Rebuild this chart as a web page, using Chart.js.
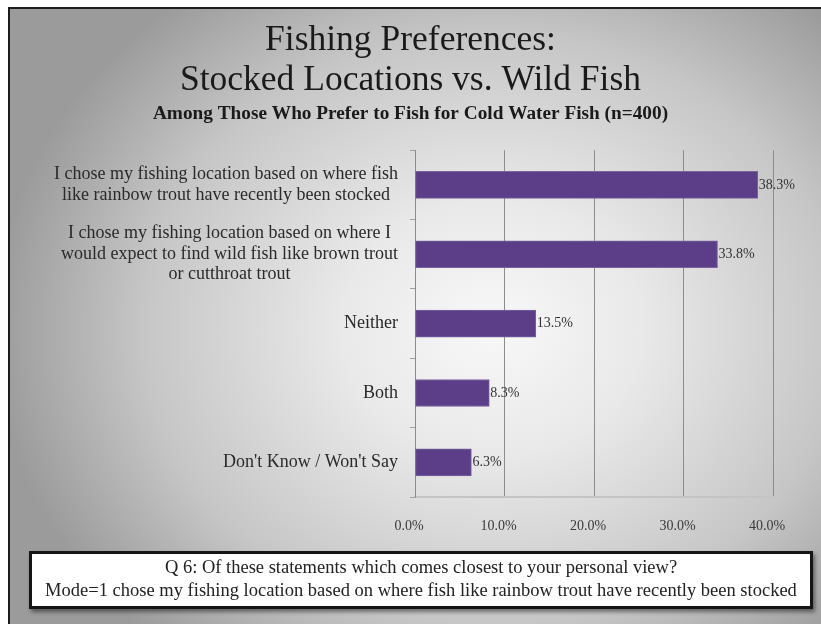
<!DOCTYPE html>
<html>
<head>
<meta charset="utf-8">
<script src="https://cdn.jsdelivr.net/npm/chart.js@4.4.1/dist/chart.umd.min.js"></script>
<style>
    html, body { margin: 0; padding: 0; background: #fff; }
    #stage { position: relative; width: 821px; height: 624px; overflow: hidden; }
    #panel {
        position: absolute; left: 8px; top: 7px; width: 830px; height: 640px;
        border-left: 2px solid #1c1c1c; border-top: 2px solid #1c1c1c;
        background: radial-gradient(ellipse 60% 66% at 58% 50%, #f8f8f8 0%, #e9e9e9 30%, #c6c6c6 70%, #9b9b9b 100%);
    }
    #chart { position: absolute; left: 0; top: 0; }
    #note {
        position: absolute; left: 29px; top: 551px; width: 778px; height: 50px;
        background: #fff; border: 3px solid #151515;
        box-shadow: 2px 3px 4px rgba(0,0,0,0.45);
        font-family: "Liberation Serif", "Times New Roman", serif;
        font-size: 18.5px; line-height: 23px; color: #222; text-align: center;
        padding-top: 2px; box-sizing: content-box; white-space: nowrap;
    }
</style>
</head>
<body>
<div id="stage">
    <div id="panel"></div>
    <canvas id="chart" width="821" height="624"></canvas>
    <div id="note">
        <div>Q 6: Of these statements which comes closest to your personal view?</div>
        <div>Mode=1 chose my fishing location based on where fish like rainbow trout have recently been stocked</div>
    </div>
</div>
<script>
// Chart data
const titleLines = ['Fishing Preferences:', 'Stocked Locations vs. Wild Fish'];
const subtitleText = 'Among Those Who Prefer to Fish for Cold Water Fish (n=400)';
const categories = [
    ['I chose my fishing location based on where fish', 'like rainbow trout have recently been stocked'],
    ['I chose my fishing location based on where I', 'would expect to find wild fish like brown trout', 'or cutthroat trout'],
    ['Neither'],
    ['Both'],
    ["Don't Know / Won't Say"]
];
const shares = [38.3, 33.8, 13.5, 8.3, 6.3];
const xTicks = [0, 10, 20, 30, 40];

const serif = '"Liberation Serif", "Times New Roman", serif';
const barColor = '#5b3e87';

// Category labels: block right-aligned to the axis, lines centred within the block
const categoryLabels = {
    id: 'categoryLabels',
    afterDraw(chart) {
        const ctx = chart.ctx;
        const yScale = chart.scales.y;
        const right = chart.chartArea.left - 17;
        const lh = 20.5;
        ctx.save();
        ctx.font = '18px ' + serif;
        ctx.fillStyle = '#2a2a2a';
        ctx.textAlign = 'center';
        ctx.textBaseline = 'middle';
        categories.forEach((lines, i) => {
            const yc = yScale.getPixelForValue(i);
            const blockW = Math.max(...lines.map(l => ctx.measureText(l).width));
            const cx = right - blockW / 2;
            lines.forEach((line, j) => {
                ctx.fillText(line, cx, yc + (j - (lines.length - 1) / 2) * lh);
            });
        });
        ctx.restore();
    }
};

// Value labels at the end of each bar
const valueLabels = {
    id: 'valueLabels',
    afterDatasetsDraw(chart) {
        const ctx = chart.ctx;
        const meta = chart.getDatasetMeta(0);
        ctx.save();
        ctx.font = '14px ' + serif;
        ctx.fillStyle = '#333';
        ctx.textAlign = 'left';
        ctx.textBaseline = 'middle';
        meta.data.forEach((bar, i) => {
            ctx.fillText(shares[i].toFixed(1) + '%', bar.x + 1, bar.y);
        });
        ctx.restore();
    }
};

const chart = new Chart(document.getElementById('chart').getContext('2d'), {
    type: 'bar',
    data: {
        labels: categories,
        datasets: [{
            data: shares,
            backgroundColor: barColor,
            borderColor: '#7a63a0',
            borderWidth: 1,
            borderSkipped: false,
            barThickness: 27
        }]
    },
    options: {
        indexAxis: 'y',
        responsive: false,
        animation: false,
        layout: { padding: { top: 0, left: 48, right: 48, bottom: 87 } },
        scales: {
            x: {
                min: 0,
                max: 40,
                afterBuildTicks: scale => { scale.ticks = xTicks.map(v => ({ value: v })); },
                afterFit: scale => { scale.height = 40; },
                grid: { color: '#8c8c8c', lineWidth: 1, drawTicks: false },
                border: { color: '#c4c4c4', width: 2 },
                ticks: {
                    padding: 21,
                    labelOffset: -6,
                    color: '#3a3a3a',
                    font: { family: serif, size: 14 },
                    callback: v => v.toFixed(1) + '%'
                }
            },
            y: {
                afterFit: scale => { scale.width = 367; },
                grid: { offset: true, drawOnChartArea: false, drawTicks: true, tickLength: 5, color: '#a0a0a0' },
                border: { color: '#8c8c8c', width: 1 },
                ticks: { display: false }
            }
        },
        plugins: {
            legend: { display: false },
            tooltip: { enabled: false },
            title: {
                display: true,
                text: titleLines,
                color: '#1a1a1a',
                font: { family: serif, size: 35.5, weight: 'normal', lineHeight: 1.14 },
                padding: { top: 20, bottom: 3 }
            },
            subtitle: {
                display: true,
                text: subtitleText,
                color: '#1a1a1a',
                font: { family: serif, size: 19.3, weight: 'bold', lineHeight: 1.05 },
                padding: { top: 0, bottom: 26 }
            }
        }
    },
    plugins: [categoryLabels, valueLabels]
});
</script>
</body>
</html>
